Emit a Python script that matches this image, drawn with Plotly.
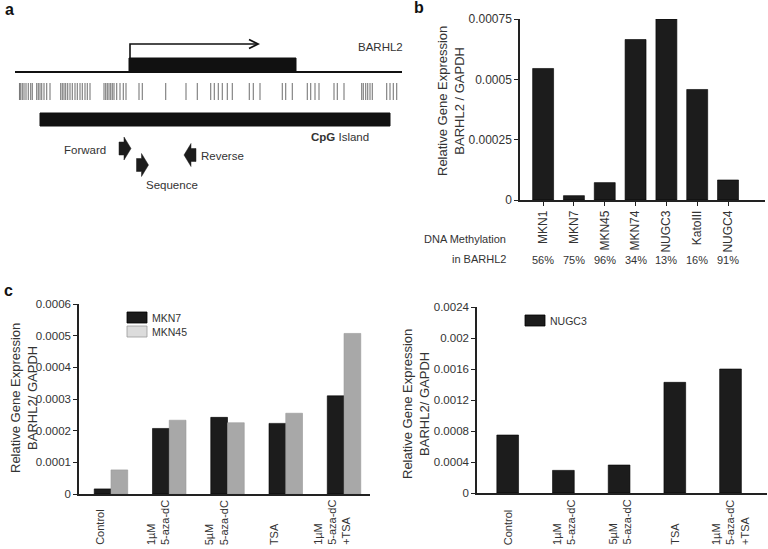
import plotly.graph_objects as go

W, H = 768, 549
FONT = "Liberation Sans, Arial, Helvetica, sans-serif"
TXT = "#333333"
AX = "#222222"
BLACK = "#1c1c1c"
GREY = "#a8a8a8"

# ---------------- Panel a : BARHL2 locus (diagram units) ----------------
locus_span = [15, 402]
locus_y = 72
exon_span = [129, 296]
exon_top = 58
tss_x = 130
tss_arrow_y = 44
tss_arrow_end = 258
cpg_sites = [19.5, 20.7, 22.3, 24, 26, 28.3, 30.7, 32.3, 36.7, 38.3, 40, 41.7, 44,
             46.7, 50, 60.7, 62.3, 64, 65.7, 67.7, 70, 72.3, 75, 77.3, 80, 82.3, 85,
             87.3, 90, 104, 105.7, 107.3, 109, 110.7, 112.3, 114, 116.7, 120, 123.3,
             126, 139, 142.3, 165.7, 186, 197.3, 210.7, 214.3, 218.3, 222.3, 227.3,
             232.3, 249.3, 253.3, 260, 282.3, 285.7, 292.3, 307.3, 310.7, 315, 319,
             334, 337.3, 344, 361.7, 363.3, 365.7, 367.7, 370, 372.3, 386.7, 390,
             393.3, 396.7]
cpg_tick_span = [83, 100]
cpg_island_span = [40, 390]
cpg_island_y = [113, 126]
primer_names = ["Forward", "Sequence", "Reverse"]
primer_x = [125, 142.5, 190]
primer_y = [148.5, 165, 155]
primer_dir = [1, 1, -1]

# ---------------- Panel b ----------------
cell_lines = ["MKN1", "MKN7", "MKN45", "MKN74", "NUGC3", "KatoIII", "NUGC4"]
expr_b = [0.000545, 0.000018, 0.000072, 0.000665, 0.00075, 0.000458, 0.000083]
methylation = ["56%", "75%", "96%", "34%", "13%", "16%", "91%"]
b_tickvals = [0, 0.00025, 0.0005, 0.00075]
b_ticktext = ["0", "0.00025", "0.0005", "0.00075"]

# ---------------- Panel c ----------------
treatments = ["Control", "1µM<br>5-aza-dC", "5µM<br>5-aza-dC", "TSA", "1µM<br>5-aza-dC<br>+TSA"]
mkn7 = [0.000016, 0.000207, 0.000242, 0.000223, 0.000310]
mkn45 = [0.000076, 0.000233, 0.000225, 0.000255, 0.000507]
nugc3 = [0.000748, 0.000292, 0.000361, 0.001428, 0.001600]
cl_tickvals = [0, 0.0001, 0.0002, 0.0003, 0.0004, 0.0005, 0.0006]
cl_ticktext = ["0", "0.0001", "0.0002", "0.0003", "0.0004", "0.0005", "0.0006"]
cr_tickvals = [0, 0.0004, 0.0008, 0.0012, 0.0016, 0.002, 0.0024]
cr_ticktext = ["0", "0.0004", "0.0008", "0.0012", "0.0016", "0.002", "0.0024"]


def px_x(p):
    return p / W


def px_y(p):
    return 1 - p / H


fig = go.Figure()

# ---- panel a traces ----
xs, ys = [], []
for s in cpg_sites:
    xs += [s, s, None]
    ys += [cpg_tick_span[0], cpg_tick_span[1], None]
fig.add_trace(go.Scatter(x=xs, y=ys, mode="lines", xaxis="x4", yaxis="y4",
                         line=dict(color="#7a7a7a", width=1.1),
                         hoverinfo="skip", showlegend=False))

arrow_shape = [(-6, -6.5), (-1, -6.5), (-1, -11.5), (6, 0), (-1, 11.5), (-1, 6.5), (-6, 6.5), (-6, -6.5)]
for cx, cy, d in zip(primer_x, primer_y, primer_dir):
    fig.add_trace(go.Scatter(x=[cx + d * dx for dx, dy in arrow_shape],
                             y=[cy + dy for dx, dy in arrow_shape],
                             mode="lines", fill="toself", fillcolor=BLACK,
                             line=dict(color=BLACK, width=0.5),
                             xaxis="x4", yaxis="y4", hoverinfo="skip", showlegend=False))

# ---- panel b bars ----
fig.add_trace(go.Bar(x=cell_lines, y=expr_b, xaxis="x", yaxis="y", width=0.68,
                     marker=dict(color=BLACK, line=dict(color="#000", width=0.6)),
                     showlegend=False))

# ---- panel c left bars ----
idx = list(range(len(treatments)))
fig.add_trace(go.Bar(x=idx, y=mkn7, xaxis="x2", yaxis="y2", name="MKN7",
                     offset=-0.2875, width=0.2875,
                     marker=dict(color=BLACK, line=dict(color="#000", width=0.6)),
                     showlegend=False))
fig.add_trace(go.Bar(x=idx, y=mkn45, xaxis="x2", yaxis="y2", name="MKN45",
                     offset=0, width=0.2875,
                     marker=dict(color=GREY, line=dict(color="#999", width=0.6)),
                     showlegend=False))
# ---- panel c right bars ----
fig.add_trace(go.Bar(x=idx, y=nugc3, xaxis="x3", yaxis="y3", name="NUGC3", width=0.39,
                     marker=dict(color=BLACK, line=dict(color="#000", width=0.6)),
                     showlegend=False))

axis_common = dict(showline=True, linecolor=AX, linewidth=1.5, showgrid=False,
                   zeroline=False, automargin=False,
                   tickfont=dict(family=FONT, size=12, color=TXT),
                   ticks="outside", ticklen=4, tickwidth=1.2, tickcolor=AX)

fig.update_layout(
    template="none",
    width=W, height=H, margin=dict(l=0, r=0, t=0, b=0, pad=0, autoexpand=False),
    paper_bgcolor="white", plot_bgcolor="white",
    font=dict(family=FONT, color=TXT),
    barmode="group", showlegend=False,
    xaxis=dict(domain=[px_x(520), px_x(765)], range=[-0.75, 7.2], type="category",
               anchor="y", tickangle=-90, **{**axis_common, "tickfont": dict(family=FONT, size=12, color=TXT)}),
    yaxis=dict(domain=[px_y(200), px_y(19)], range=[0, 0.00075], anchor="x",
               tickvals=b_tickvals, ticktext=b_ticktext, **axis_common),
    xaxis2=dict(domain=[px_x(79), px_x(370)], range=[-0.549, 4.446], anchor="y2",
                showticklabels=False, **{**axis_common, "ticks": ""}),
    yaxis2=dict(domain=[px_y(494), px_y(304)], range=[0, 0.0006], anchor="x2",
                tickvals=cl_tickvals, ticktext=cl_ticktext,
                **{**axis_common, "tickfont": dict(family=FONT, size=11.5, color=TXT)}),
    xaxis3=dict(domain=[px_x(477), px_x(767)], range=[-0.551, 4.655], anchor="y3",
                showticklabels=False, **{**axis_common, "ticks": ""}),
    yaxis3=dict(domain=[px_y(493), px_y(307)], range=[0, 0.0024], anchor="x3",
                tickvals=cr_tickvals, ticktext=cr_ticktext,
                **{**axis_common, "tickfont": dict(family=FONT, size=11.5, color=TXT)}),
    xaxis4=dict(domain=[0, px_x(420)], range=[0, 420], anchor="y4", visible=False, automargin=False),
    yaxis4=dict(domain=[px_y(200), 1], range=[200, 0], anchor="x4", visible=False, automargin=False),
)

shapes = []
shapes.append(dict(type="line", xref="x4", yref="y4", x0=locus_span[0], x1=locus_span[1],
                   y0=locus_y, y1=locus_y, line=dict(color="#111", width=1.8)))
shapes.append(dict(type="rect", xref="x4", yref="y4", x0=exon_span[0], x1=exon_span[1],
                   y0=exon_top, y1=locus_y, fillcolor="#111", line=dict(color="#111", width=1)))
shapes.append(dict(type="path", xref="x4", yref="y4",
                   path=f"M{tss_x},{exon_top} L{tss_x},{tss_arrow_y} L{tss_arrow_end},{tss_arrow_y}",
                   line=dict(color="#111", width=1.6)))
shapes.append(dict(type="path", xref="x4", yref="y4",
                   path=f"M{tss_arrow_end-9},{tss_arrow_y-4.5} L{tss_arrow_end},{tss_arrow_y} L{tss_arrow_end-9},{tss_arrow_y+4.5}",
                   line=dict(color="#111", width=1.8)))
shapes.append(dict(type="rect", xref="x4", yref="y4", x0=cpg_island_span[0], x1=cpg_island_span[1],
                   y0=cpg_island_y[0], y1=cpg_island_y[1], fillcolor="#111",
                   line=dict(color="#111", width=1)))

# manual legends for panel c
leg_entries = [("MKN7", BLACK, "#000", 127, 312), ("MKN45", "#dcdcdc", "#999", 127, 326),
               ("NUGC3", BLACK, "#000", 525, 315)]
annotations = []
for name, fc, lc, lx, ly in leg_entries:
    shapes.append(dict(type="rect", xref="paper", yref="paper", x0=px_x(lx), x1=px_x(lx + 20),
                       y0=px_y(ly + 11), y1=px_y(ly), fillcolor=fc, line=dict(color=lc, width=0.8)))
    annotations.append(dict(text=name, xref="paper", yref="paper", x=px_x(lx + 23), y=px_y(ly + 5.5),
                            xanchor="left", yanchor="middle", showarrow=False,
                            font=dict(family=FONT, size=10.5, color=TXT)))

fig.update_layout(shapes=shapes)


def ann(text, x, y, xref="paper", yref="paper", size=12, xanchor="center", yanchor="middle",
        angle=0, align="center", bold=False, color=TXT):
    annotations.append(dict(text=f"<b>{text}</b>" if bold else text, x=x, y=y, xref=xref, yref=yref,
                            xanchor=xanchor, yanchor=yanchor, textangle=angle, align=align,
                            showarrow=False, font=dict(family=FONT, size=size, color=color)))


# panel letters
ann("a", px_x(3), px_y(9), xanchor="left", size=16, bold=True, color="#111")
ann("b", px_x(412), px_y(8), xanchor="left", size=16, bold=True, color="#111")
ann("c", px_x(2), px_y(290), xanchor="left", size=16, bold=True, color="#111")

# panel a texts
ann("BARHL2", 405, 47, xref="x4", yref="y4", xanchor="right", size=11.5)
ann("<b>CpG</b> Island", 371, 137, xref="x4", yref="y4", xanchor="right", size=11.5)
ann(primer_names[0], 108, 150, xref="x4", yref="y4", xanchor="right", size=11.5)
ann(primer_names[1], 144, 185, xref="x4", yref="y4", xanchor="left", size=11.5)
ann(primer_names[2], 199, 156, xref="x4", yref="y4", xanchor="left", size=11.5)

# axis titles
ann("Relative Gene Expression<br>BARHL2 / GAPDH", px_x(451), px_y(101), angle=-90, size=13)
ann("Relative Gene Expression<br>BARHL2/ GAPDH", px_x(24), px_y(398), angle=-90, size=13)
ann("Relative Gene Expression<br>BARHL2/ GAPDH", px_x(416), px_y(404), angle=-90, size=13)

# panel b methylation row
ann("DNA Methylation", px_x(508), px_y(239), xanchor="right", size=11)
ann("in BARHL2", px_x(508), px_y(259), xanchor="right", size=11)
for cl, m in zip(cell_lines, methylation):
    ann(m, cl, px_y(260), xref="x", size=11)

# panel c category labels (rotated, bottom aligned)
for i, t in enumerate(treatments):
    ann(t, i - 0.2, px_y(547), xref="x2", yanchor="bottom", angle=-90, align="left", size=11)
    ann(t, i, px_y(547), xref="x3", yanchor="bottom", angle=-90, align="left", size=11)

fig.update_layout(annotations=annotations)

fig.write_html(
    "out.html",
    config={"displayModeBar": False},
    post_script="document.body.style.margin='0';document.body.style.overflow='hidden';",
)
